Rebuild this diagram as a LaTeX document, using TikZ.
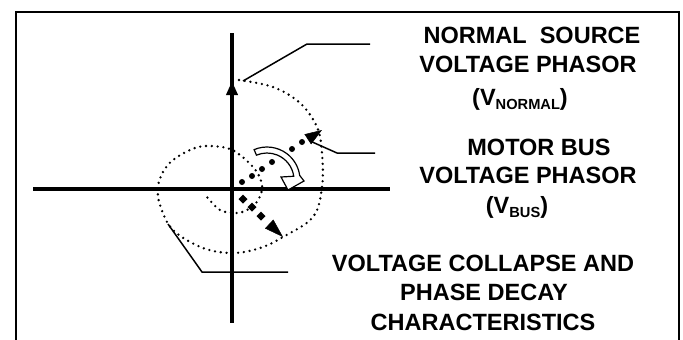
\documentclass[tikz,border=0pt]{standalone}
\usepackage{fontspec}
\setmainfont{Liberation Sans}
\usetikzlibrary{arrows.meta,calc}
\newcommand{\subtxt}[1]{\raisebox{-4.5bp}{\fontsize{14.7}{15}\selectfont #1}}
\begin{document}
\begin{tikzpicture}[x=1bp,y=-1bp,
  lbl/.style={anchor=base, inner sep=0pt, font=\fontsize{23.6}{28}\selectfont\bfseries},
  axisline/.style={line width=4bp},
  leader/.style={line width=1.5bp},
  spiral/.style={line width=2.6bp, line cap=round, dash pattern=on 0pt off 5.8bp},
  frameline/.style={line width=2bp},
]
\useasboundingbox (0,0) rectangle (683,339);
% frame
\coordinate (f1) at (16,345);
\coordinate (f2) at (16,12);
\coordinate (f3) at (679,12);
\coordinate (f4) at (679,345);
\draw[frameline] (f1) -- (f2) -- (f3) -- (f4);

% axes
\coordinate (O) at (232,189);
\coordinate (xl) at (33,189);
\coordinate (xr) at (390,189);
\coordinate (yt) at (232,33);
\coordinate (yb) at (232,323);
\draw[axisline] (xl) -- (xr);
\draw[axisline] (yt) -- (yb);

% normal source phasor
\coordinate (N) at (232,81);
\draw[axisline, -{Triangle[length=14bp,width=11bp]}] (O) -- (N);

% spiral (collapse and decay)
\draw[spiral] plot[smooth, tension=0.6] coordinates {
 (239,80) (273,87) (300,103) (317,127) (322,153) (322,187) (313,217)
 (283,237) (260,248) (233,253) (203,248) (173,230) (160,205) (158,187)
 (163,172) (173,160) (190,150) (205,146) (227,148) (240,155) (253,167)
 (260,178) (262,190) (256,203) (245,211) (235,213) (220,210) (207,197)};

% motor bus phasor (dots)
\coordinate (B) at (322,130);
\foreach \px/\py in {242/182,252/176,262/169,272/162,292/149,302/142}
  \fill (\px,\py) circle[radius=3];
\draw[line width=0.5bp, -{Triangle[length=17bp,width=12bp]}] ($(O)!0.85!(B)$) -- (B);

% decay phasor (diamonds)
\coordinate (D) at (283,237);
\foreach \px/\py in {243/199,252/207,261/216}
  \fill (\px,\py-4.5) -- (\px+4.5,\py) -- (\px,\py+4.5) -- (\px-4.5,\py) -- cycle;
\draw[line width=0.5bp, -{Triangle[length=19bp,width=12bp]}] ($(O)!0.8!(D)$) -- (D);

% rotation arrow
\coordinate (C) at (267,180);
\draw[line width=1.2bp, fill=white, line join=miter]
  ($(C)+(-113:33)$) arc[start angle=-113,end angle=-8,radius=33]
  -- (304,181) -- (288,190) -- (281,177)
  -- ($(C)+(-8:27)$) arc[start angle=-8,end angle=-113,radius=27] -- cycle;

% leaders
\coordinate (nl1) at (243,81);
\coordinate (nl2) at (307,44);
\coordinate (nl3) at (370,44);
\draw[leader] (nl1) -- (nl2) -- (nl3);
\coordinate (bl1) at (310,141);
\coordinate (bl2) at (337,153);
\coordinate (bl3) at (375,153);
\draw[leader] (bl1) -- (bl2) -- (bl3);
\coordinate (cl1) at (168,224);
\coordinate (cl2) at (202,272);
\coordinate (cl3) at (288,272);
\draw[leader] (cl1) -- (cl2) -- (cl3);

% texts
\node[lbl] (ns1) at (532,43) {NORMAL\ \ SOURCE};
\node[lbl] (ns2) at (528,72) {VOLTAGE PHASOR};
\node[lbl] (ns3) at (520,105) {(V\subtxt{NORMAL})};
\node[lbl] (mb1) at (539,155) {MOTOR BUS};
\node[lbl] (mb2) at (528,183) {VOLTAGE PHASOR};
\node[lbl] (mb3) at (517,213) {(V\subtxt{BUS})};
\node[lbl] (vc1) at (483,271) {VOLTAGE COLLAPSE AND};
\node[lbl] (vc2) at (484,300) {PHASE DECAY};
\node[lbl] (vc3) at (483,330) {CHARACTERISTICS};
\end{tikzpicture}
\end{document}
